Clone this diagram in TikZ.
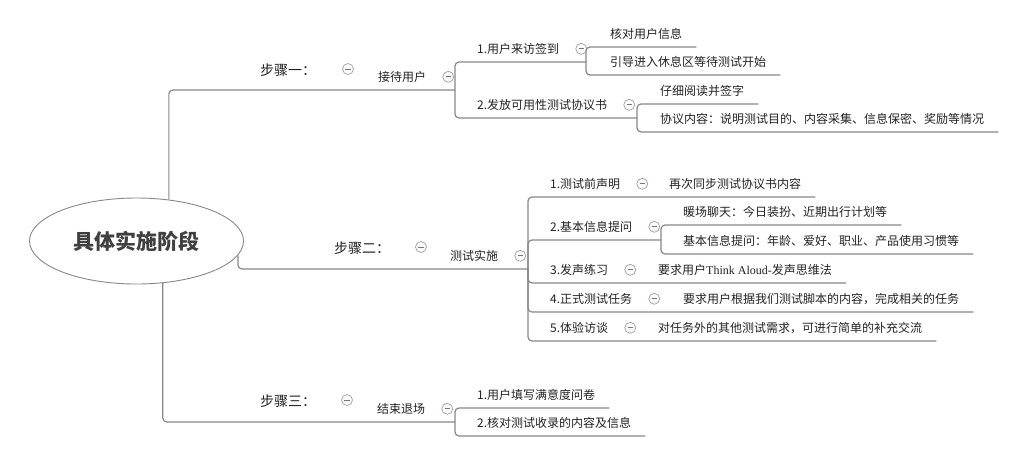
\documentclass[tikz,border=0pt]{standalone}
\usepackage{fontspec}
\setmainfont{Noto Sans CJK SC}
\newfontfamily\thinkfont{Liberation Serif}
\usetikzlibrary{shapes.geometric,positioning}
\definecolor{mapgray}{RGB}{135,135,135}
\definecolor{mapink}{RGB}{34,34,34}
\definecolor{foldblue}{RGB}{105,115,170}
\tikzset{
  link/.style={draw=mapgray,line width=1.2pt,rounded corners=4pt},
  topic/.style={anchor=south west,inner xsep=0pt,inner ysep=6pt,text height=11.5pt,text depth=2.5pt,
    font=\fontsize{12}{14}\selectfont,text=mapink},
  steplabel/.style={anchor=base west,inner sep=0pt,font=\fontsize{14}{16}\selectfont,text=mapink},
  fold/.style={circle,draw=gray!75,fill=gray!4,line width=0.7pt,minimum size=11pt,inner sep=0pt,
    path picture={\draw[foldblue,line width=0.9pt]
      ([xshift=-2.6pt]path picture bounding box.center) -- ([xshift=2.6pt]path picture bounding box.center);}},
}
\begin{document}
\begin{tikzpicture}[x=1pt,y=-1pt]
  \useasboundingbox (0,0) rectangle (1028,467);
  \node[ellipse,draw=mapgray,line width=0.9pt,minimum width=214pt,minimum height=86pt,
        font=\fontsize{21}{24}\selectfont\bfseries,text=black!75] (root) at (136.5,241) {具体实施阶段};

  % 步骤一
  \node[steplabel] (step1) at (260,75) {步骤一：};
  \node[fold] (fstep1) at (348,69) {};
  \node[topic] (recv) at (378,90) {接待用户};
  \node[fold,right=16pt of recv] (frecv) {};
  \coordinate (b1) at (455,90);
  \node[topic] (sign) at (477,62) {1.用户来访签到};
  \node[fold,right=16pt of sign] (fsign) {};
  \coordinate (b11) at (586,62);
  \node[topic] (check) at (610,47) {核对用户信息};
  \node[topic] (guide) at (610,75) {引导进入休息区等待测试开始};
  \node[topic] (deal) at (477,118) {2.发放可用性测试协议书};
  \node[fold,right=16pt of deal] (fdeal) {};
  \coordinate (b12) at (637,118);
  \node[topic] (read) at (660,104) {仔细阅读并签字};
  \node[topic] (terms) at (660,132) {协议内容：说明测试目的、内容采集、信息保密、奖励等情况};
  \draw[link] (root.52) |- (b1);
  \draw[link] (b1) |- (b11);
  \draw[link] (b1) |- (b12);
  \draw[link] (b11) |- ([xshift=14pt]check.south east);
  \draw[link] (b11) |- ([xshift=14pt]guide.south east);
  \draw[link] (b12) |- ([xshift=14pt]read.south east);
  \draw[link] (b12) |- ([xshift=14pt]terms.south east);

  % 步骤二
  \node[steplabel] (step2) at (334,253) {步骤二：};
  \node[fold] (fstep2) at (421,247) {};
  \node[topic] (run) at (450,269) {测试实施};
  \node[fold,right=16pt of run] (frun) {};
  \coordinate (b2) at (528,269);
  \draw[link] (root.-8) |- (b2);
  \foreach \n/\y/\lab/\lx/\leaf in {
      pre/197/1.测试前声明/669/再次同步测试协议书内容,
      voice/283/3.发声练习/658/{要求用户{\thinkfont Think Aloud-}发声思维法},
      task/312/4.正式测试任务/683/要求用户根据我们测试脚本的内容，完成相关的任务,
      talk/341/5.体验访谈/658/对任务外的其他测试需求，可进行简单的补充交流}{
    \node[topic] (\n) at (550,\y) {\lab};
    \node[fold,right=16pt of \n] (f\n) {};
    \node[topic] (\n-leaf) at (\lx,\y) {\leaf};
    \draw[link] (b2) |- ([xshift=14pt]\n-leaf.south east);
  }
  \node[topic] (ask) at (550,240) {2.基本信息提问};
  \node[fold,right=16pt of ask] (fask) {};
  \coordinate (b22) at (661,240);
  \node[topic] (warm) at (683,225) {暖场聊天：今日装扮、近期出行计划等};
  \node[topic] (basic) at (683,254) {基本信息提问：年龄、爱好、职业、产品使用习惯等};
  \draw[link] (b2) |- (b22);
  \draw[link] (b22) |- ([xshift=14pt]warm.south east);
  \draw[link] (b22) |- ([xshift=14pt]basic.south east);

  % 步骤三
  \node[steplabel] (step3) at (260,406) {步骤三：};
  \node[fold] (fstep3) at (347,400) {};
  \node[topic] (leave) at (377,422) {结束退场};
  \node[fold,right=16pt of leave] (fleave) {};
  \coordinate (b3) at (455,422);
  \node[topic] (survey) at (477,408) {1.用户填写满意度问卷};
  \node[topic] (record) at (477,436) {2.核对测试收录的内容及信息};
  \draw[link] (root.-58) |- (b3);
  \draw[link] (b3) |- ([xshift=14pt]survey.south east);
  \draw[link] (b3) |- ([xshift=14pt]record.south east);
\end{tikzpicture}
\end{document}
